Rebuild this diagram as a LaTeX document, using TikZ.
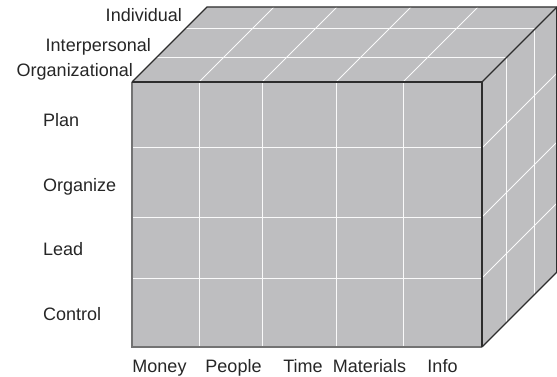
\documentclass[tikz,border=0pt]{standalone}
\usepackage{fontspec}
\setmainfont{Liberation Sans}
\definecolor{facegray}{RGB}{190,190,192}
\definecolor{edgedark}{RGB}{45,45,45}
\definecolor{edgemid}{RGB}{115,115,115}
\definecolor{gridline}{RGB}{250,250,250}
\begin{document}
\begin{tikzpicture}[x=1pt,y=-1pt,
  lbl/.style={inner sep=0pt,font=\fontsize{18}{21}\selectfont,text=black!85},
  gridl/.style={draw=gridline,line width=1pt},
  darkedge/.style={draw=edgedark,line width=1.2pt},
  midedge/.style={draw=edgemid,line width=1.2pt}]
\useasboundingbox (0,0) rectangle (557,377);
% faces
\fill[facegray] (132,82) -- (207,7) -- (557,7) -- (557,272) -- (482,347) -- (132,347) -- cycle;
% front grid
\foreach \x in {199,262,336,403} \draw[gridl] (\x,82) -- (\x,347);
\foreach \y in {148,217,278} \draw[gridl] (132,\y) -- (482,\y);
% top grid
\foreach \x in {199,262,336,403} \draw[gridl] (\x,82) -- (\x+75,7);
\foreach \d in {24,53} \draw[gridl] (132+\d,82-\d) -- (482+\d,82-\d);
% side grid
\foreach \d in {24,52} \draw[gridl] (482+\d,82-\d) -- (482+\d,347-\d);
\foreach \y in {148,217,278} \draw[gridl] (482,\y) -- (557,\y-75);
% edges
\draw[midedge] (132,82) -- (132,347) -- (482,347);
\draw[darkedge] (132,82) -- (207,7) -- (557,7);
\draw[darkedge] (132,82) -- (482,82) -- (482,347);
\draw[darkedge] (482,82) -- (557,7);
\draw[darkedge] (482,347) -- (557,272);
\draw[darkedge] (557,7) -- (557,272);
% top labels
\node[lbl,anchor=base east] (ind) at (182,22) {Individual};
\node[lbl,anchor=base east] (inter) at (151,52) {Interpersonal};
\node[lbl,anchor=base east] (org) at (133,77) {Organizational};
% left labels
\node[lbl,anchor=base west] (plan) at (43,126.5) {Plan};
\node[lbl,anchor=base west] (organize) at (43,191) {Organize};
\node[lbl,anchor=base west] (lead) at (43,255.5) {Lead};
\node[lbl,anchor=base west] (control) at (43,320) {Control};
% bottom labels
\node[lbl,anchor=base] (money) at (159.5,372.5) {Money};
\node[lbl,anchor=base] (people) at (233.5,372.5) {People};
\node[lbl,anchor=base] (time) at (303,372.5) {Time};
\node[lbl,anchor=base] (materials) at (369.5,372.5) {Materials};
\node[lbl,anchor=base] (info) at (442.5,372.5) {Info};
\end{tikzpicture}
\end{document}
